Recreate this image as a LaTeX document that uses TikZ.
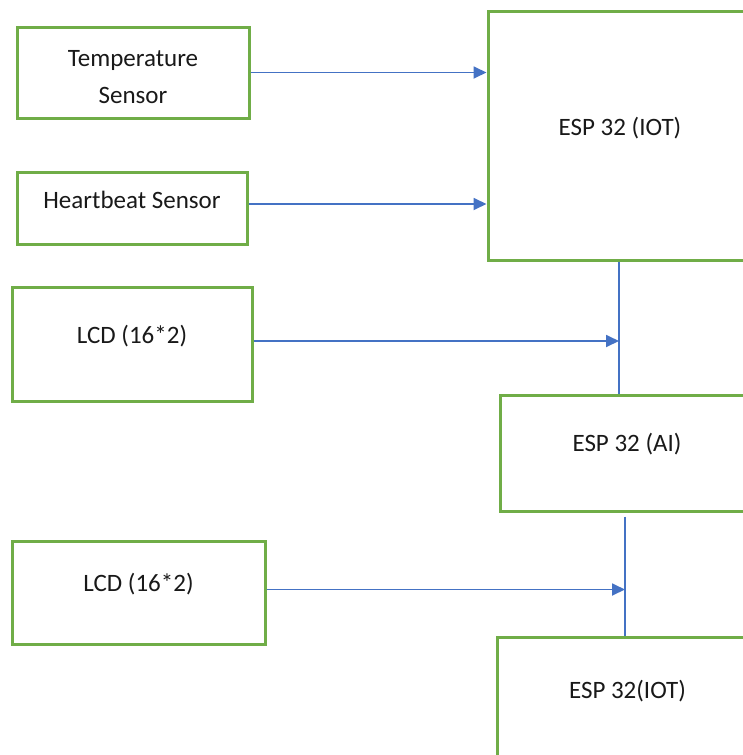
\documentclass[tikz,border=0pt]{standalone}
\usepackage{fontspec}
\setmainfont{Carlito}
\usetikzlibrary{arrows.meta,positioning}
\definecolor{boxgreen}{HTML}{70AD47}
\definecolor{linkblue}{HTML}{4472C4}
\tikzset{
  block/.style={draw=boxgreen, line width=3pt, fill=white, align=center, inner sep=0pt, text=black!90, font=\fontsize{25}{37}\selectfont},
  lift/.style={text height=18pt, text depth=#1},
  line/.style={-{Triangle[length=13pt,width=12pt]}, draw=linkblue, line width=1.8pt},
  bus/.style={draw=linkblue, line width=1.4pt}
}
\begin{document}
\begin{tikzpicture}[x=1pt, y=1pt]
  \useasboundingbox (0,0) rectangle (743,-755);
  \clip (0,0) rectangle (743,-755);

  % inputs on the left
  \node[block, text height=62pt, minimum width=232, minimum height=91] (temp) at (133,-72.5) {Temperature\\Sensor};
  \node[block, lift=18pt, minimum width=230, minimum height=72] (heart) at (132,-208) {Heartbeat Sensor};
  \node[block, lift=20pt, minimum width=240, minimum height=114] (lcda) at (132,-344) {LCD (16*2)};
  \node[block, lift=20pt, minimum width=253, minimum height=103] (lcdb) at (138.5,-592.5) {LCD (16*2)};

  % controllers, cut off at the right
  \node[block, lift=18pt, minimum width=264, minimum height=249] (espiot) at (620,-135.5) {ESP 32 (IOT)};
  \node[block, lift=22pt, minimum width=254, minimum height=116] (espai) at (627,-453) {ESP 32 (AI)};
  \node[block, lift=29pt, minimum width=261, minimum height=133] (espout) at (627.5,-703.5) {ESP 32(IOT)};

  \coordinate (busa) at (619,0);
  \coordinate (busb) at (625,0);

  \draw[line] (temp.east) -- (temp.east -| espiot.west);
  \draw[line] ([yshift=4pt]heart.east) -- ([yshift=4pt]heart.east -| espiot.west);
  \draw[bus] (espiot.south -| busa) -- (espai.north -| busa);
  \draw[line] ([yshift=3pt]lcda.east) -- ([yshift=3pt]lcda.east -| busa);
  \draw[bus] ([yshift=-4pt]espai.south -| busb) -- (espout.north -| busb);
  \draw[line] ([yshift=3pt]lcdb.east) -- ([yshift=3pt]lcdb.east -| busb);
\end{tikzpicture}
\end{document}
